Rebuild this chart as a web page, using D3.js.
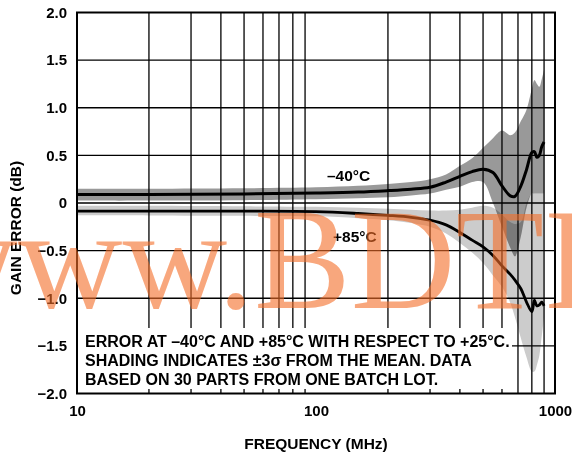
<!DOCTYPE html>
<html><head><meta charset="utf-8">
<script src="https://cdn.jsdelivr.net/npm/d3@7"></script>
<style>
html,body{margin:0;padding:0;background:#fff;}
svg{display:block;font-family:"Liberation Sans",Arial,sans-serif;font-weight:bold;}
</style></head>
<body><svg id="c" width="572" height="459"></svg>
<script>
// ---- data ----
const freqMHz      = [10, 20, 50, 100, 150, 200, 250, 300, 350, 400, 450, 500, 550, 600, 650, 680, 720, 760, 800, 820, 840, 860, 880, 900];
const minus40Mean  = [0.09, 0.09, 0.095, 0.105, 0.115, 0.13, 0.145, 0.165, 0.22, 0.28, 0.33, 0.355, 0.32, 0.18, 0.075, 0.07, 0.18, 0.35, 0.53, 0.54, 0.48, 0.5, 0.59, 0.64];
const minus40Upper = [0.15, 0.15, 0.155, 0.165, 0.18, 0.2, 0.22, 0.25, 0.3, 0.39, 0.47, 0.58, 0.68, 0.76, 0.71, 0.74, 0.86, 0.98, 1.2, 1.29, 1.25, 1.22, 1.3, 1.4];
const minus40Lower = [0.025, 0.025, 0.03, 0.04, 0.05, 0.06, 0.08, 0.1, 0.14, 0.17, 0.22, 0.22, 0.0, -0.25, -0.47, -0.56, -0.35, -0.05, 0.1, 0.1, 0.1, 0.1, 0.1, 0.1];
const plus85Mean   = [-0.085, -0.085, -0.085, -0.09, -0.11, -0.13, -0.15, -0.18, -0.23, -0.31, -0.39, -0.46, -0.55, -0.66, -0.75, -0.81, -0.9, -1.04, -1.14, -1.02, -1.08, -1.07, -1.04, -1.08];
const plus85Upper  = [-0.03, -0.03, -0.035, -0.04, -0.05, -0.06, -0.07, -0.08, -0.08, -0.07, -0.05, -0.03, -0.05, -0.12, -0.2, -0.22, -0.2, 0.0, 0.1, 0.1, 0.1, 0.1, 0.1, 0.1];
const plus85Lower  = [-0.13, -0.13, -0.135, -0.14, -0.16, -0.18, -0.21, -0.25, -0.32, -0.42, -0.52, -0.63, -0.76, -0.88, -1.05, -1.2, -1.42, -1.62, -1.77, -1.77, -1.7, -1.6, -1.4, -1.2];
const yTicks = [-2, -1.5, -1, -0.5, 0, 0.5, 1, 1.5, 2];
const xTicks = [10, 100, 1000];
const xGrid = [20,30,40,50,60,70,80,90,200,300,400,500,600,700,800,900];
const seriesLabels = ["\u201340\u00B0C", "+85\u00B0C"];
const noteLines = ["ERROR AT \u201340\u00B0C AND +85\u00B0C WITH RESPECT TO +25\u00B0C.",
                   "SHADING INDICATES \u00B13\u03C3 FROM THE MEAN. DATA",
                   "BASED ON 30 PARTS FROM ONE BATCH LOT."];

// ---- chart ----
const svg = d3.select("#c");
const L=77, R=555, T=12.5, B=393.5;
const x = d3.scaleLog().domain([10,1000]).range([L,R]);
const y = d3.scaleLinear().domain([-2,2]).range([B,T]);
const curve = d3.curveCatmullRom.alpha(0.5);

function band(up, lo){
  return d3.area().curve(curve).x((d,i)=>x(freqMHz[i])).y0((d,i)=>y(lo[i])).y1((d,i)=>y(up[i]))(freqMHz);
}
function line(v){
  return d3.line().curve(curve).x((d,i)=>x(freqMHz[i])).y((d,i)=>y(v[i]))(freqMHz);
}
const gb = svg.append("g").style("isolation","isolate");
gb.append("path").attr("d", band(minus40Upper, minus40Lower)).attr("fill","#999").style("mix-blend-mode","multiply");
gb.append("path").attr("d", band(plus85Upper, plus85Lower)).attr("fill","#ccc").style("mix-blend-mode","multiply");

// grid
const g = svg.append("g").attr("stroke","#000").attr("stroke-width",1.3);
xGrid.forEach(f=>g.append("line").attr("x1",x(f)).attr("x2",x(f)).attr("y1",T).attr("y2",B));
yTicks.filter(v=>v>-2&&v<2).forEach(v=>g.append("line").attr("x1",L).attr("x2",R).attr("y1",y(v)).attr("y2",y(v)));

// note box (hides grid)
svg.append("rect").attr("x",L+1).attr("y",328).attr("width",512-L-1).attr("height",61).attr("fill","#fff");

// border
svg.append("rect").attr("x",L).attr("y",T).attr("width",R-L).attr("height",B-T)
  .attr("fill","none").attr("stroke","#000").attr("stroke-width",2);

// curves
svg.append("path").attr("d", line(minus40Mean)).attr("fill","none").attr("stroke","#000").attr("stroke-width",3);
svg.append("path").attr("d", line(plus85Mean)).attr("fill","none").attr("stroke","#000").attr("stroke-width",2.8);

// axes
const fmt = v => v===0 ? "0" : d3.format(".1f")(v).replace("-","\u2013");
const ya = svg.append("g").attr("transform",`translate(${L},0)`)
  .call(d3.axisLeft(y).tickValues(yTicks).tickFormat(fmt).tickSize(0).tickPadding(10));
const xa = svg.append("g").attr("transform",`translate(0,${B})`)
  .call(d3.axisBottom(x).tickValues(xTicks).tickFormat(d=>String(d)).tickSize(0).tickPadding(12));
[ya,xa].forEach(a=>{a.select(".domain").remove(); a.selectAll("text").attr("fill","#000")
  .style("font-family","'Liberation Sans',Arial,sans-serif").style("font-weight","bold").style("font-size","15px");});

svg.append("text").attr("x",316).attr("y",449).attr("text-anchor","middle").attr("font-size",15.5).text("FREQUENCY (MHz)");
svg.append("text").attr("transform","translate(21,228) rotate(-90)").attr("text-anchor","middle").attr("font-size",15.5).text("GAIN ERROR (dB)");

// series labels
svg.append("text").attr("x",327).attr("y",181).attr("font-size",15.5).text(seriesLabels[0]);
svg.append("text").attr("x",333).attr("y",242).attr("font-size",15.5).text(seriesLabels[1]);

// note
const nb=[346.5,366,384.5];
noteLines.forEach((t,i)=>svg.append("text").attr("x",85).attr("y",nb[i]).attr("font-size",16).text(t));

// watermark
svg.append("text").attr("x",-87).attr("y",308)
  .style("font-family","'Liberation Serif','Times New Roman',serif").style("font-weight","normal")
  .attr("font-size",145).attr("fill","rgb(245,110,40)").attr("opacity",0.6).text("www.BDTI");
</script></body></html>
